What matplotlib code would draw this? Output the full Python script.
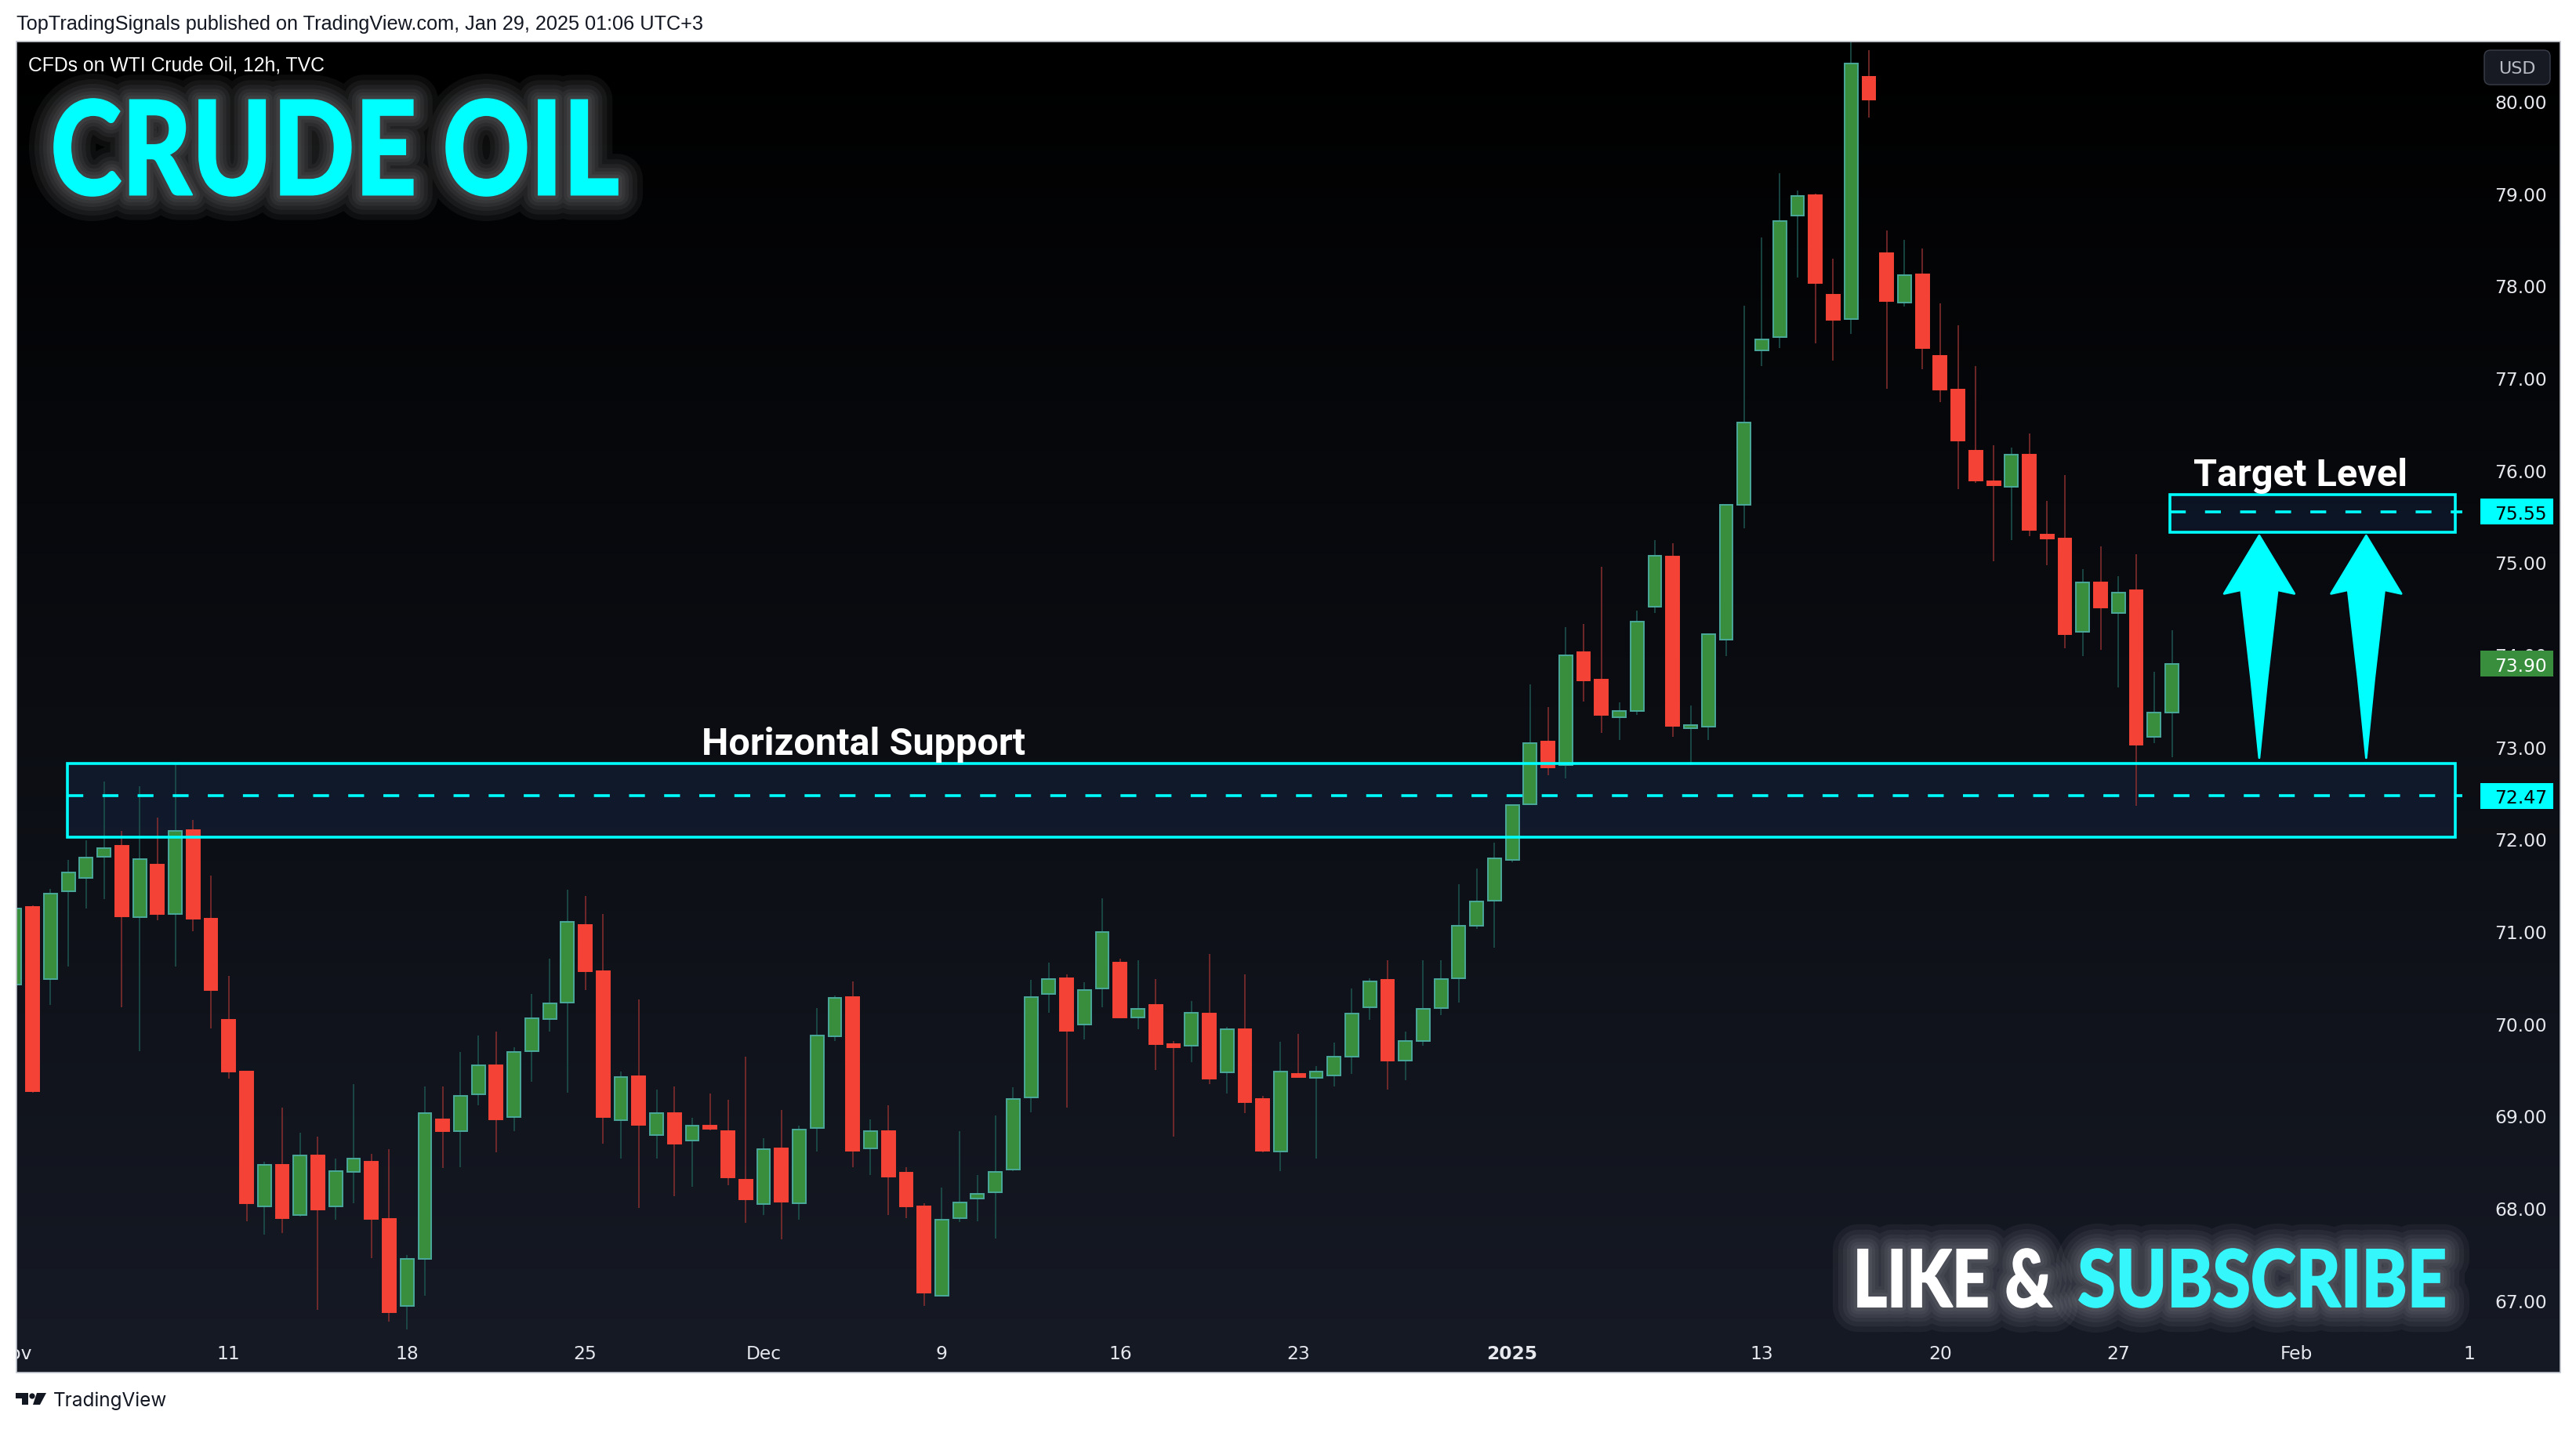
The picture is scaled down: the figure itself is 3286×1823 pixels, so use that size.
import numpy as np
import matplotlib
matplotlib.use('Agg')
import matplotlib.pyplot as plt
from matplotlib.patches import Rectangle, Polygon, PathPatch, FancyBboxPatch, Circle
from matplotlib.textpath import TextPath
from matplotlib.font_manager import FontProperties
from matplotlib.transforms import Affine2D, blended_transform_factory

# 12h candles, WTI crude oil CFD (Nov 1 2024 -> Jan 29 2025), one value per bar
opens = [70.42, 71.26, 70.48, 71.43, 71.58, 71.81, 71.93, 71.15, 71.72, 71.19,
         72.10, 71.14, 70.04, 69.48, 68.02, 68.47, 67.92, 68.57, 68.02, 68.39,
         68.50, 67.88, 66.94, 67.45, 68.96, 68.83, 69.23, 69.55, 68.99, 69.70,
         70.05, 70.23, 71.07, 70.57, 68.95, 69.43, 68.79, 69.03, 68.73, 68.89,
         68.83, 68.31, 68.04, 68.65, 68.05, 68.87, 69.86, 70.29, 68.65, 68.83,
         68.38, 68.02, 67.05, 67.89, 68.10, 68.17, 68.42, 69.20, 70.32, 70.49,
         69.99, 70.38, 70.66, 70.07, 70.20, 69.77, 69.76, 70.11, 69.47, 69.94,
         69.18, 68.61, 69.43, 69.41, 69.44, 69.64, 70.18, 70.47, 69.60, 69.81,
         70.17, 70.49, 71.06, 71.33, 71.77, 72.38, 73.06, 72.80, 74.03, 73.73,
         73.32, 73.39, 74.52, 75.06, 73.20, 73.22, 74.16, 75.62, 77.30, 77.44,
         78.76, 78.98, 77.90, 77.64, 80.26, 78.35, 77.82, 78.12, 77.24, 76.87,
         76.21, 75.87, 75.82, 76.17, 75.30, 75.26, 74.25, 74.78, 74.45, 74.70,
         73.11, 73.37]
highs = [71.30, 71.28, 71.46, 71.77, 71.99, 72.62, 72.09, 72.57, 72.23, 72.82,
         72.21, 71.60, 70.52, 69.48, 68.50, 69.09, 68.82, 68.77, 68.54, 69.34,
         68.59, 68.64, 67.49, 69.32, 69.32, 69.69, 69.87, 69.91, 69.74, 70.32,
         70.70, 71.45, 71.38, 71.19, 69.48, 70.26, 69.28, 69.32, 68.98, 69.24,
         69.17, 69.64, 68.76, 69.06, 68.89, 70.17, 70.30, 70.46, 68.96, 69.11,
         68.44, 68.05, 68.22, 68.83, 68.36, 69.00, 69.31, 70.47, 70.66, 70.53,
         70.45, 71.36, 70.70, 70.69, 70.48, 69.81, 70.24, 70.75, 69.96, 70.53,
         69.22, 69.80, 69.89, 69.54, 69.79, 70.38, 70.49, 70.69, 69.91, 70.69,
         70.69, 71.51, 71.68, 71.96, 72.38, 73.68, 73.43, 74.30, 74.33, 74.95,
         73.48, 74.48, 75.24, 75.21, 73.45, 74.23, 75.63, 77.78, 78.52, 79.22,
         79.03, 79.00, 78.29, 80.66, 80.55, 78.60, 78.50, 78.40, 77.81, 77.57,
         77.13, 76.27, 76.24, 76.40, 75.67, 75.95, 74.93, 75.17, 74.85, 75.09,
         73.81, 74.26]
lows = [70.30, 69.25, 70.20, 70.62, 71.25, 71.35, 70.18, 69.70, 71.12, 70.62,
        71.00, 69.95, 69.40, 67.86, 67.71, 67.73, 67.91, 66.90, 67.87, 68.05,
        67.46, 66.77, 66.68, 67.05, 68.43, 68.44, 69.11, 68.60, 68.83, 69.37,
        69.91, 69.25, 70.36, 68.70, 68.54, 68.00, 68.54, 68.13, 68.23, 68.84,
        68.25, 67.84, 67.92, 67.66, 67.87, 68.61, 69.81, 68.44, 68.36, 67.92,
        67.89, 66.94, 67.04, 67.85, 67.86, 67.67, 68.40, 69.04, 70.12, 69.09,
        69.83, 70.18, 70.06, 69.94, 69.50, 68.77, 69.58, 69.34, 69.24, 69.03,
        68.60, 68.40, 69.42, 68.54, 69.32, 69.45, 70.04, 69.28, 69.39, 69.76,
        70.09, 70.23, 71.03, 70.82, 71.75, 72.37, 72.69, 72.66, 73.49, 73.15,
        73.07, 73.35, 74.45, 73.11, 72.80, 73.07, 73.98, 75.37, 77.13, 77.32,
        78.09, 77.37, 77.19, 77.48, 79.82, 76.88, 77.77, 77.09, 76.74, 75.79,
        75.86, 75.01, 75.24, 75.28, 74.97, 74.07, 73.98, 74.05, 73.64, 72.36,
        73.04, 72.89]
closes = [71.25, 69.27, 71.41, 71.64, 71.80, 71.90, 71.16, 71.78, 71.19, 72.09,
          71.14, 70.36, 69.48, 68.05, 68.47, 67.89, 68.57, 67.98, 68.40, 68.54,
          67.88, 66.87, 67.45, 69.03, 68.83, 69.22, 69.55, 68.96, 69.69, 70.06,
          70.22, 71.10, 70.57, 68.99, 69.42, 68.90, 69.03, 68.70, 68.89, 68.86,
          68.33, 68.09, 68.64, 68.07, 68.85, 69.87, 70.28, 68.62, 68.83, 68.34,
          68.02, 67.08, 67.87, 68.06, 68.15, 68.39, 69.18, 70.29, 70.48, 69.92,
          70.36, 70.99, 70.07, 70.16, 69.78, 69.74, 70.12, 69.40, 69.94, 69.15,
          68.62, 69.48, 69.42, 69.48, 69.64, 70.11, 70.46, 69.60, 69.81, 70.16,
          70.48, 71.06, 71.32, 71.79, 72.37, 73.04, 72.78, 73.99, 73.72, 73.35,
          73.39, 74.36, 75.07, 73.23, 73.21, 74.22, 75.62, 76.52, 77.42, 78.70,
          78.97, 78.03, 77.63, 80.41, 80.02, 77.83, 78.11, 77.32, 76.87, 76.32,
          75.89, 75.84, 76.17, 75.35, 75.26, 74.22, 74.78, 74.51, 74.67, 73.02,
          73.37, 73.90]

tick_bars = [0, 12, 22, 32, 42, 52, 62, 72, 84, 98, 108, 118, 128, 138]
tick_labels = ['Nov', '11', '18', '25', 'Dec', '9', '16', '23', '2025', '13', '20', '27', 'Feb', '10']
price_ticks = [67, 68, 69, 70, 71, 72, 73, 74, 75, 76, 77, 78, 79, 80]

# drawn levels
support_level = 72.47
support_top, support_bottom = 72.82, 72.02
target_level = 75.55
target_top, target_bottom = 75.73, 75.33
support_start, target_start, zone_end, line_end = 2.95, 120.9, 136.9, 137.3
arrow_bars = [125.9, 131.9]
arrow_tip, arrow_foot = 75.29, 72.88

header = "TopTradingSignals published on TradingView.com, Jan 29, 2025 01:06 UTC+3"
symbol_line = "CFDs on WTI Crude Oil, 12h, TVC"

CYAN = '#00ffff'
UP_BODY, UP_EDGE, UP_WICK = '#388e3c', '#4aa89a', '#1d5550'
DN_BODY, DN_EDGE, DN_WICK = '#f44336', '#f44336', '#8a2f2f'
AXIS_TXT = '#e6e8ee'

W, H = 3286, 1824
def rect(x0, y0, x1, y1):
    return [x0 / W, 1 - y1 / H, (x1 - x0) / W, (y1 - y0) / H]

fig = plt.figure(figsize=(W / 100, H / 100), dpi=100, facecolor='white')

# chart background gradient
bg = fig.add_axes(rect(21, 54, 3266, 1752), zorder=0)
top_c = np.array([0, 0, 0]) / 255
bot_c = np.array([22, 26, 37]) / 255
t = np.linspace(0, 1, 400)[:, None, None]
grad = top_c * (1 - t) + bot_c * t
bg.imshow(grad, aspect='auto', extent=[0, 1, 0, 1], origin='upper')
bg.axis('off')

# price chart
X0, X1, Y0, Y1 = 21, 3158, 54, 1700
ax = fig.add_axes(rect(X0, Y0, X1, Y1), zorder=1)
ax.patch.set_visible(False)
for s in ax.spines.values():
    s.set_visible(False)
ax.set_xlim(0.092, 138.04)
ax.set_ylim(66.658, 80.646)

n = len(closes)
xs = np.arange(n)
o = np.array(opens); c = np.array(closes); hi = np.array(highs); lo = np.array(lows)
up = c >= o
ax.vlines(xs[up], lo[up], hi[up], color=UP_WICK, lw=1.1, zorder=2)
ax.vlines(xs[~up], lo[~up], hi[~up], color=DN_WICK, lw=1.1, zorder=2)
body_bot = np.minimum(o, c)
body_h = np.maximum(np.abs(c - o), 0.035)
ax.bar(xs[up], body_h[up], bottom=body_bot[up], width=0.74, color=UP_BODY,
       edgecolor=UP_EDGE, linewidth=1.4, zorder=3)
ax.bar(xs[~up], body_h[~up], bottom=body_bot[~up], width=0.74, color=DN_BODY,
       edgecolor=DN_EDGE, linewidth=1.4, zorder=3)

# support and target zones
for z0, zb, zt in [(support_start, support_bottom, support_top),
                   (target_start, target_bottom, target_top)]:
    ax.add_patch(Rectangle((z0, zb), zone_end - z0, zt - zb, fc='#1e3a6e', alpha=0.25,
                           ec='none', zorder=1))
    ax.add_patch(Rectangle((z0, zb), zone_end - z0, zt - zb, fc='none', ec=CYAN, lw=2.6,
                           zorder=4))
ax.plot([support_start, line_end], [support_level, support_level], color=CYAN, lw=2.6,
        ls=(0, (5.6, 6.8)), zorder=4)
ax.plot([target_start, line_end], [target_level, target_level], color=CYAN, lw=2.6,
        ls=(0, (5.6, 6.8)), zorder=4)

ax.text(47.6, 72.92, 'Horizontal Support', ha='center', va='baseline', color='white',
        fontsize=35, fontweight='bold', family='Roboto', zorder=5)
ax.text(128.2, 75.84, 'Target Level', ha='center', va='baseline', color='white',
        fontsize=35, fontweight='bold', family='Roboto', zorder=5)

# up arrows
for xa in arrow_bars:
    pts = [(xa, arrow_tip), (xa + 1.97, arrow_tip - 0.63), (xa + 1.02, arrow_tip - 0.59),
           (xa + 0.45, arrow_tip - 1.55), (xa, arrow_foot), (xa - 0.45, arrow_tip - 1.55),
           (xa - 1.02, arrow_tip - 0.59), (xa - 1.97, arrow_tip - 0.63)]
    ax.add_patch(Polygon(pts, closed=True, fc=CYAN, ec=CYAN, lw=2, joinstyle='round', zorder=5))

# price scale on the right
ax.yaxis.tick_right()
ax.set_yticks(price_ticks)
ax.set_yticklabels([f'{v:.2f}' for v in price_ticks])
ax.tick_params(axis='y', length=0, pad=17.3, labelsize=16.8, labelcolor=AXIS_TXT)
ax.tick_params(axis='x', bottom=False, labelbottom=False)

blend = blended_transform_factory(ax.transAxes, ax.transData)
fx0 = (3164 - X0) / (X1 - X0)
fw = 93 / (X1 - X0)
ftx = (3182 - X0) / (X1 - X0)
hh = 16.5 / 117.67
for price, fc, tc in [(target_level, CYAN, 'black'), (closes[-1], '#388e3c', 'white'),
                      (support_level, CYAN, 'black')]:
    ax.add_patch(Rectangle((fx0, price - hh), fw, 2 * hh, transform=blend, fc=fc, ec='none',
                           clip_on=False, zorder=10))
    ax.text(ftx, price, f'{price:.2f}', transform=blend, ha='left', va='center_baseline',
            fontsize=16.8, color=tc, clip_on=False, zorder=11)

# time scale strip
tx = fig.add_axes(rect(X0, Y1, X1, 1752), zorder=1)
tx.patch.set_visible(False)
tx.axis('off')
tx.set_xlim(ax.get_xlim())
tx.set_ylim(0, 1)
for b, lab in zip(tick_bars, tick_labels):
    tx.text(b, 0.48, lab, ha='center', va='center', fontsize=16.8, color=AXIS_TXT,
            fontweight='bold' if lab == '2025' else 'normal', clip_on=True)

# overlay in pixel coordinates
ov = fig.add_axes([0, 0, 1, 1], zorder=3)
ov.patch.set_visible(False)
ov.axis('off')
ov.set_xlim(0, W)
ov.set_ylim(H, 0)

ov.add_patch(Rectangle((21, 54), 3266 - 21, 1752 - 54, fc='none', ec='#c4c8d0', lw=1.2))
ov.text(21, 31, header, ha='left', va='center', fontsize=18.2, color='#131722',
        family='Liberation Sans')
ov.text(36, 84, symbol_line, ha='left', va='center', fontsize=17.8, color='white',
        family='Liberation Sans')

ov.add_patch(FancyBboxPatch((3169, 65), 84, 44, boxstyle='round,pad=0,rounding_size=8',
                            fc='#171a22', ec='#3a3e4a', lw=1))
ov.text(3211, 88, 'USD', ha='center', va='center', fontsize=16, color='#b8bbc4')

# TradingView logo
logo = '#131722'
ov.add_patch(Rectangle((20, 1778), 16, 7, fc=logo, ec='none'))
ov.add_patch(Rectangle((28, 1778), 8, 15, fc=logo, ec='none'))
ov.add_patch(Circle((41, 1782), 3.6, fc=logo, ec='none'))
ov.add_patch(Polygon([(47, 1778), (59, 1778), (51, 1793), (42, 1793)], fc=logo, ec='none'))
ov.text(68, 1787, 'TradingView', ha='left', va='center', fontsize=17.5, color=logo,
        family='Inter')

def fit_path(s, x0, x1, ytop, ybot, prop):
    tp = TextPath((0, 0), s, size=100, prop=prop)
    ext = tp.get_extents()
    tr = Affine2D().translate(-ext.x0, -ext.y0).scale((x1 - x0) / ext.width,
                                                      -(ybot - ytop) / ext.height).translate(x0, ybot)
    return tr.transform_path(tp)

def glow_text(path, color):
    for lw in [64, 50, 38, 28, 19, 11]:
        ov.add_patch(PathPatch(path, fc='none', ec='#d0d0d8', lw=lw * 0.72, alpha=0.06,
                               joinstyle='round', capstyle='round'))
    ov.add_patch(PathPatch(path, fc=color, ec=color, lw=1.2))

bold = FontProperties(family='Lato', weight=900)
glow_text(fit_path('CRUDE OIL', 69, 788, 127, 251, bold), CYAN)
glow_text(fit_path('LIKE &', 2370, 2618, 1594, 1669, bold), 'white')
glow_text(fit_path('SUBSCRIBE', 2652, 3118, 1594, 1669, bold), '#35f6fa')

fig.savefig('out.png', dpi=100, facecolor='white')
